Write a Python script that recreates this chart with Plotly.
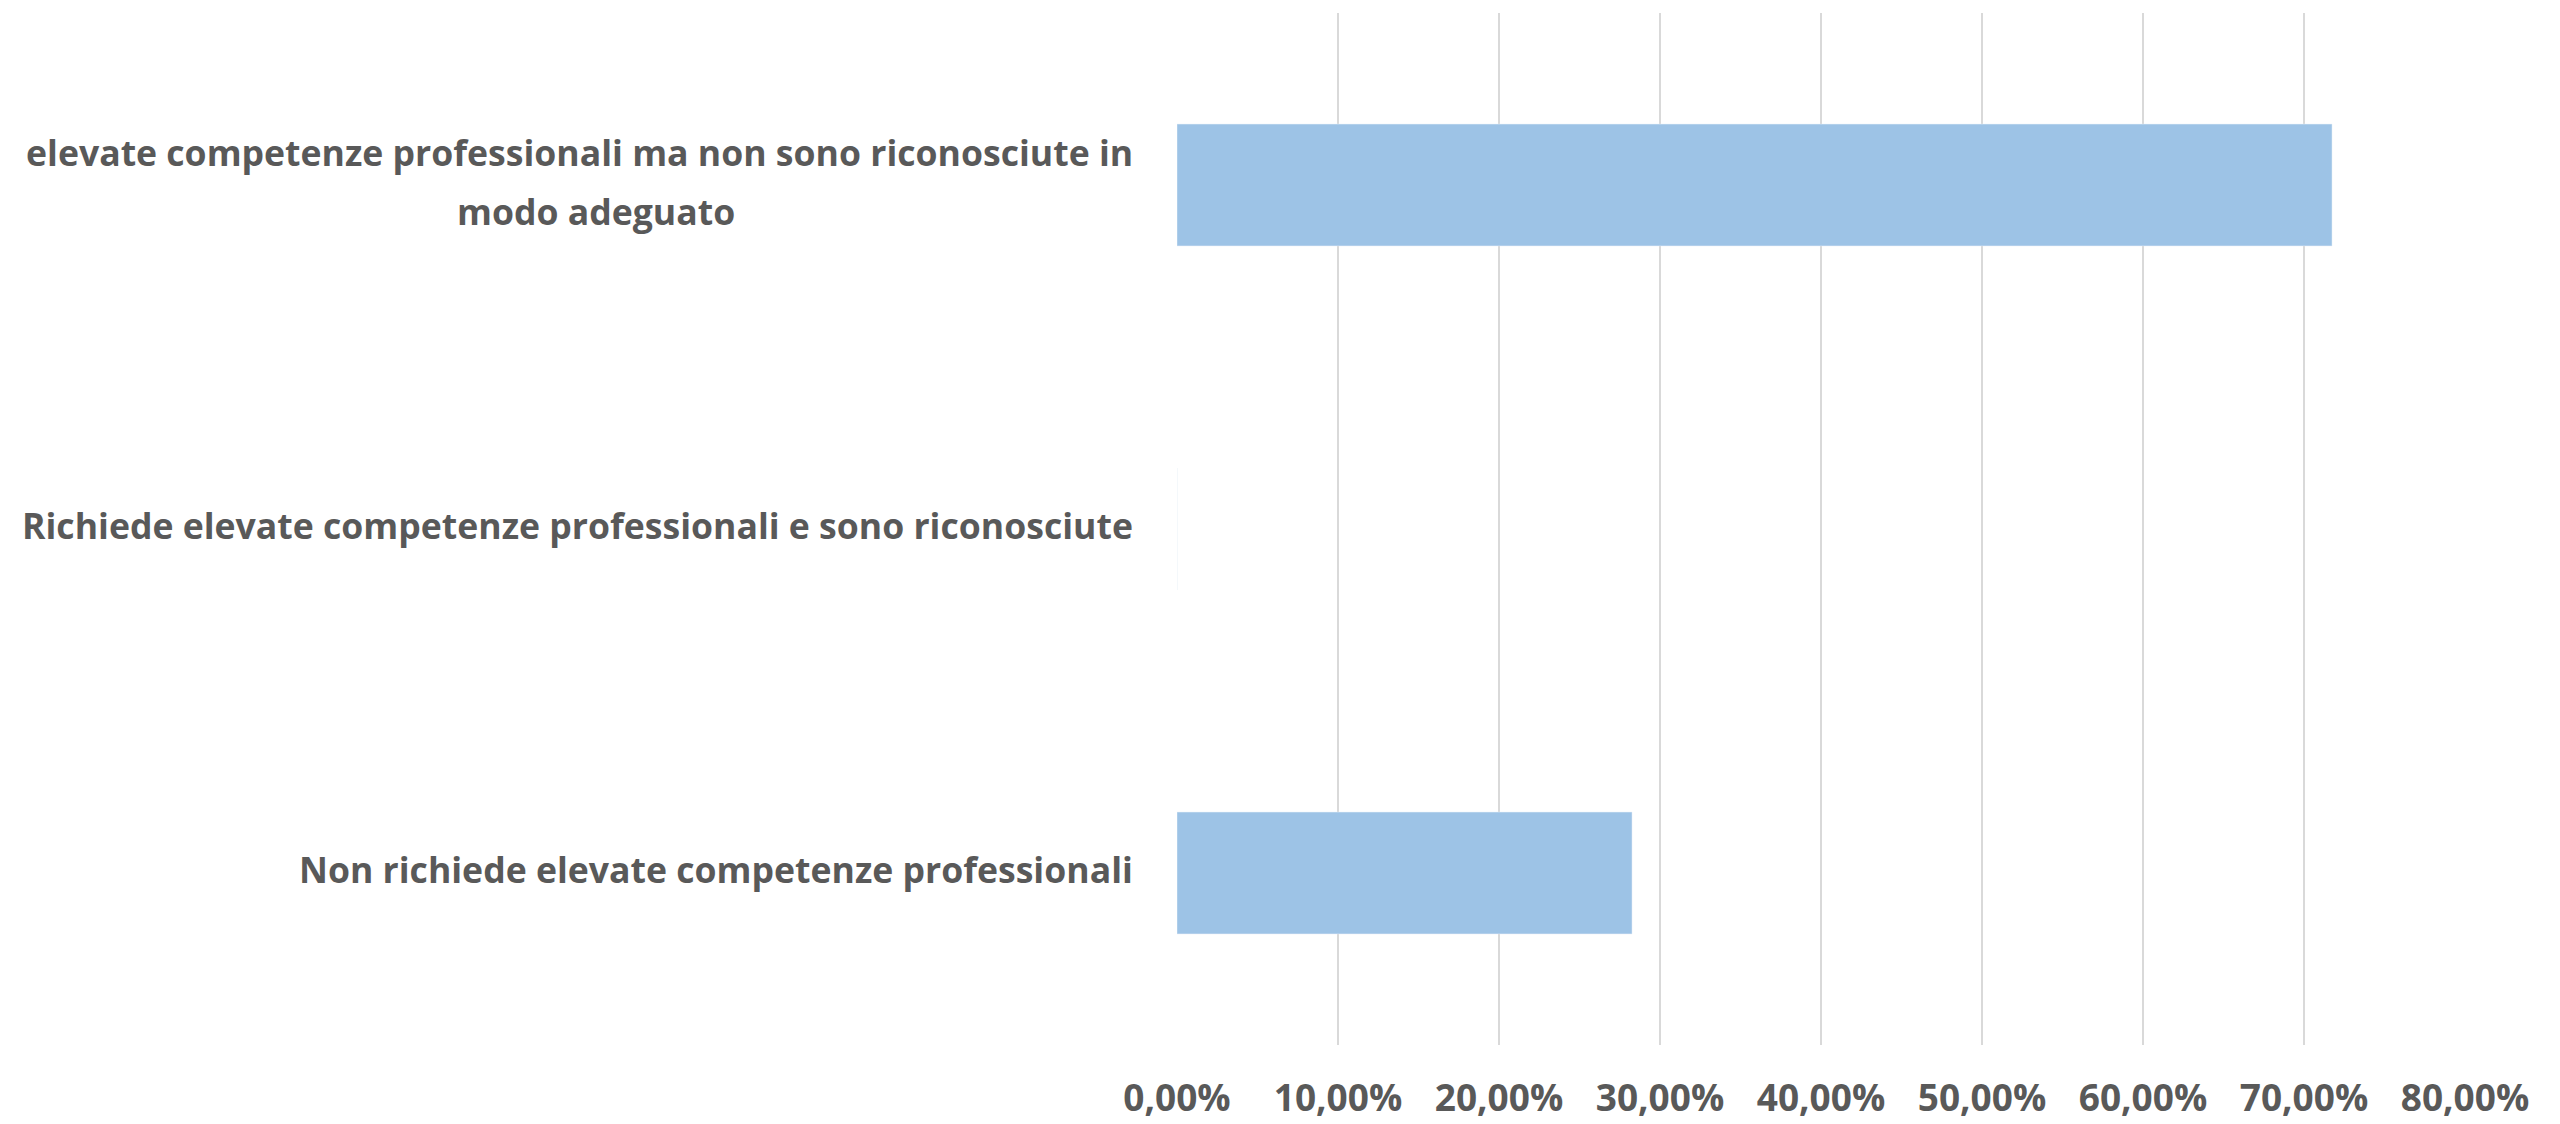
import plotly.graph_objects as go

# Survey answers (bottom-to-top order on the category axis)
categories = [
    "Non richiede elevate competenze professionali",
    "Richiede elevate competenze professionali e sono riconosciute",
    "elevate competenze professionali ma non sono riconosciute in modo adeguato",
]
# How each category label is wrapped onto lines
label_lines = [
    ["Non richiede elevate competenze professionali"],
    ["Richiede elevate competenze professionali e sono riconosciute"],
    ["elevate competenze professionali ma non sono riconosciute in", "modo adeguato"],
]
shares = [0.2826, 0.0, 0.7174]

tick_values = [0, 0.1, 0.2, 0.3, 0.4, 0.5, 0.6, 0.7, 0.8]
tick_labels = ["0,00%", "10,00%", "20,00%", "30,00%", "40,00%",
               "50,00%", "60,00%", "70,00%", "80,00%"]

TEXT = "#595959"
FONT = "Open Sans"
LABEL_SIZE = 35.6
LINE_STEP = 59        # px between wrapped label lines
LABEL_RIGHT = -0.0326  # right edge of the label column (plot-width fraction)
WRAP_CENTER = -0.451   # centre of a wrapped label block (plot-width fraction)

fig = go.Figure(
    go.Bar(
        x=shares,
        y=categories,
        orientation="h",
        width=0.354,
        marker=dict(color="#9DC3E6"),
        hoverinfo="x+y",
    )
)

# Category labels: first line right-aligned next to the plot, further lines centred under it
for cat, lines in zip(categories, label_lines):
    n = len(lines)
    for i, line in enumerate(lines):
        shift = ((n - 1) / 2 - i) * LINE_STEP + 4
        first = i == 0
        fig.add_annotation(
            x=LABEL_RIGHT if first else WRAP_CENTER, xref="paper",
            xanchor="right" if first else "center",
            y=cat, yref="y", yanchor="middle", yshift=shift,
            text=f"<b>{line}</b>", showarrow=False,
            font=dict(family=FONT, size=LABEL_SIZE, color=TEXT),
        )

fig.update_layout(
    width=2560, height=1124,
    margin=dict(l=1177, r=95, t=13, b=79),
    paper_bgcolor="white", plot_bgcolor="white",
    showlegend=False,
    bargap=0.646,
    xaxis=dict(
        range=[0, 0.8],
        tickvals=tick_values,
        ticktext=[f"<b>{t}</b>" for t in tick_labels],
        tickfont=dict(family=FONT, size=37, color=TEXT),
        showgrid=True, gridcolor="#D9D9D9", gridwidth=2,
        zeroline=False, showline=False,
        ticklabelstandoff=28,
        automargin=False,
        fixedrange=True,
    ),
    yaxis=dict(
        categoryorder="array", categoryarray=categories,
        showticklabels=False, showgrid=False, zeroline=False, showline=False,
        automargin=False,
        fixedrange=True,
    ),
)

fig.write_html("out.html")
